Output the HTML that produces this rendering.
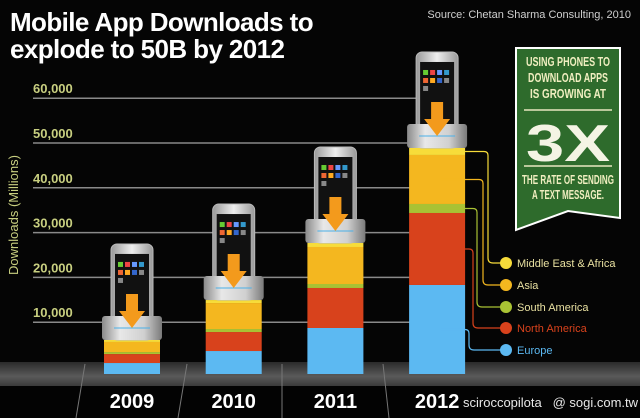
<!DOCTYPE html>
<html><head><meta charset="utf-8">
<style>
html,body{margin:0;padding:0;background:#000;}
svg{display:block;}
text{font-family:"Liberation Sans",sans-serif;}
</style></head>
<body>
<svg id="c" width="640" height="418" viewBox="0 0 640 418" xmlns="http://www.w3.org/2000/svg">
<defs>
<linearGradient id="floor" x1="0" y1="0" x2="0" y2="1"><stop offset="0" stop-color="#2a2a2a"/><stop offset="0.6" stop-color="#5a5a5a"/><stop offset="1" stop-color="#3a3a3a"/></linearGradient>
<linearGradient id="cap" x1="0" y1="0" x2="1" y2="0"><stop offset="0" stop-color="#8a8a8a"/><stop offset="0.3" stop-color="#e8e8e8"/><stop offset="0.7" stop-color="#d0d0d0"/><stop offset="1" stop-color="#7a7a7a"/></linearGradient>
<linearGradient id="phone" x1="0" y1="0" x2="1" y2="0"><stop offset="0" stop-color="#999"/><stop offset="0.5" stop-color="#eee"/><stop offset="1" stop-color="#999"/></linearGradient>
</defs>
<rect x="0" y="0" width="640" height="418" fill="#050505"/>
<text x="10" y="31" font-size="26" font-weight="bold" fill="#fff" letter-spacing="-0.6">Mobile App Downloads to</text>
<text x="10" y="58" font-size="26" font-weight="bold" fill="#fff" letter-spacing="-0.6">explode to 50B by 2012</text>
<text x="631" y="18" font-size="11" fill="#d0d0d0" text-anchor="end">Source: Chetan Sharma Consulting, 2010</text>
<text transform="translate(18,215) rotate(-90)" font-size="13" fill="#c8cf80" text-anchor="middle">Downloads (Millions)</text>
<g id="grid"></g>
<rect x="0" y="362" width="640" height="24" fill="url(#floor)"/>
<rect x="0" y="386" width="640" height="32" fill="#030303"/>
<g stroke="#777" stroke-width="1">
<line x1="85" y1="364" x2="76" y2="418"/>
<line x1="187" y1="364" x2="178" y2="418"/>
<line x1="282" y1="364" x2="282" y2="418"/>
<line x1="383" y1="364" x2="389" y2="418"/>
</g>
<g id="bars"></g>
<g id="conn"></g>
<g id="legend"></g>
<g>
<polygon points="516,48 620,48 620,218 568,211 516,230" fill="#2e6b2c" stroke="#fff" stroke-width="2"/>
<g font-family="Liberation Sans Narrow, Liberation Sans, sans-serif" font-weight="bold" fill="#f0eec0" text-anchor="middle" font-size="13">
<text x="568" y="66" textLength="84" lengthAdjust="spacingAndGlyphs">USING PHONES TO</text>
<text x="568" y="82" textLength="80" lengthAdjust="spacingAndGlyphs">DOWNLOAD APPS</text>
<text x="568" y="98" textLength="76" lengthAdjust="spacingAndGlyphs">IS GROWING AT</text>
<text x="568" y="184" textLength="92" lengthAdjust="spacingAndGlyphs">THE RATE OF SENDING</text>
<text x="568" y="199" textLength="72" lengthAdjust="spacingAndGlyphs">A TEXT MESSAGE.</text>
</g>
<line x1="524" y1="110" x2="612" y2="110" stroke="#e8e8c0" stroke-width="1.5"/>
<line x1="524" y1="166" x2="612" y2="166" stroke="#e8e8c0" stroke-width="1.5"/>
<text x="568" y="161" font-family="Liberation Serif, serif" font-weight="bold" font-size="52" fill="#f4f4e4" text-anchor="middle" textLength="84" lengthAdjust="spacingAndGlyphs">3X</text>
</g>
<text x="463" y="407" font-size="13" fill="#e8e8e8">sciroccopilota&#160;&#160;&#160;@ sogi.com.tw</text>
</svg>
<script>
const years = ['2009','2010','2011','2012'];
const regions = ['Europe','North America','South America','Asia','Middle East & Africa'];
const europe = [2450, 5130, 10270, 19870];
const northAmerica = [2000, 4240, 8930, 16070];
const southAmerica = [450, 670, 890, 2010];
const asia = [2250, 5800, 8260, 10940];
const mea = [450, 670, 890, 1560];
const yTicks = [10000, 20000, 30000, 40000, 50000, 60000];
const yTickLabels = ['10,000','20,000','30,000','40,000','50,000','60,000'];

const NS = 'http://www.w3.org/2000/svg';
const colors = ['#5cb9f2','#d8421c','#a9c234','#f4b71f','#f7dc3a'];
const series = [europe, northAmerica, southAmerica, asia, mea];
function yGrid(v){ return 367 - v * 0.00448; }
function hBar(v){ return v * 0.00448; }
const barBase = 374;
function xBand(i){ return 104 + i * 101.7; }
const barW = 56;
function mk(tag, attrs, parent){ const e = document.createElementNS(NS, tag); for (const k in attrs) e.setAttribute(k, attrs[k]); parent.appendChild(e); return e; }

const grid = document.getElementById('grid');
yTicks.forEach((t, i) => {
  const y = yGrid(t);
  const l = mk('line', {x1:33, y1:y, x2:440, y2:y, stroke:'#8a8a8a', 'stroke-width':1.5}, grid);
  
  
  const tx = mk('text', {x:33, y:y-5, 'font-size':13, 'font-weight':'bold', fill:'#c8cf80'}, grid);
  tx.textContent = yTickLabels[i];
  
  
});

const bars = document.getElementById('bars');
const segTops = [];
years.forEach((yr, i) => {
  const x = xBand(i);
  let acc = 0;
  const g = mk('g', {}, bars);
  
  
  const tops = [];
  series.forEach((s, k) => {
    const h = hBar(s[i]);
    const y = barBase - hBar(acc) - h;
    const r = mk('rect', {x:x, y:y, width:barW, height:h, fill:colors[k]}, g);
    
    
    tops.push(y + h / 2);
    acc += s[i];
  });
  segTops.push(tops);
  const top = barBase - hBar(acc);
  const cx = x + barW / 2;
  // phone
  const pw = 42, ph = 96;
  const p = mk('rect', {x:cx-pw/2, y:top-ph, width:pw, height:ph, rx:6, fill:'url(#phone)', stroke:'#bbb'}, g);
  
  
  mk('rect', {x:cx-pw/2+4, y:top-ph+10, width:pw-8, height:ph-14, fill:'#111'}, g);
  const ic = ['#6c3','#e44','#69f','#39c','#e63','#fa2','#36c','#888'];
  for (let a = 0; a < 8; a++) {
    mk('rect', {x:cx-14 + (a%4)*7, y:top-ph+18 + Math.floor(a/4)*8, width:5, height:5, fill:ic[a]}, g);
  }
  mk('rect', {x:cx-14, y:top-ph+34, width:5, height:5, fill:'#888'}, g);
  // cap
  const c = mk('rect', {x:x-2, y:top-24, width:barW+4, height:24, rx:3, fill:'url(#cap)'}, g);
  
  
  mk('line', {x1:cx-18, y1:top-12, x2:cx+18, y2:top-12, stroke:'#4ab0e8', 'stroke-width':1}, g);
  const ar = mk('polygon', {points:`${cx-6},${top-46} ${cx+6},${top-46} ${cx+6},${top-29} ${cx+13},${top-29} ${cx},${top-12} ${cx-13},${top-29} ${cx-6},${top-29}`, fill:'#f39a1c'}, g);
  
  
  const yt = mk('text', {x:cx, y:408, 'font-size':20, 'font-weight':'bold', fill:'#fff', 'text-anchor':'middle'}, bars);
  yt.textContent = yr;
  
  
});

const conn = document.getElementById('conn');
const legend = document.getElementById('legend');
const legY = [350, 328, 307, 285, 263];
const vx = [469, 473, 477, 483, 488];
const last = segTops[segTops.length - 1];
regions.forEach((name, k) => {
  const sy = last[k], ly = legY[k];
  const path = mk('path', {d:`M441 ${sy} H${vx[k]-4} Q${vx[k]} ${sy} ${vx[k]} ${sy+4} V${ly-5} Q${vx[k]} ${ly} ${vx[k]+5} ${ly} H506`, fill:'none', stroke:colors[k], 'stroke-width':1.2}, conn);
  
  
  const d = mk('circle', {cx:506, cy:ly, r:6, fill:colors[k]}, legend);
  
  
  const t = mk('text', {x:517, y:ly+4, 'font-size':11, fill: k===1 ? '#d8421c' : (k===0 ? '#5cb9f2' : '#e8e0a0')}, legend);
  t.textContent = name;
  
  
});
</script>
</body></html>
